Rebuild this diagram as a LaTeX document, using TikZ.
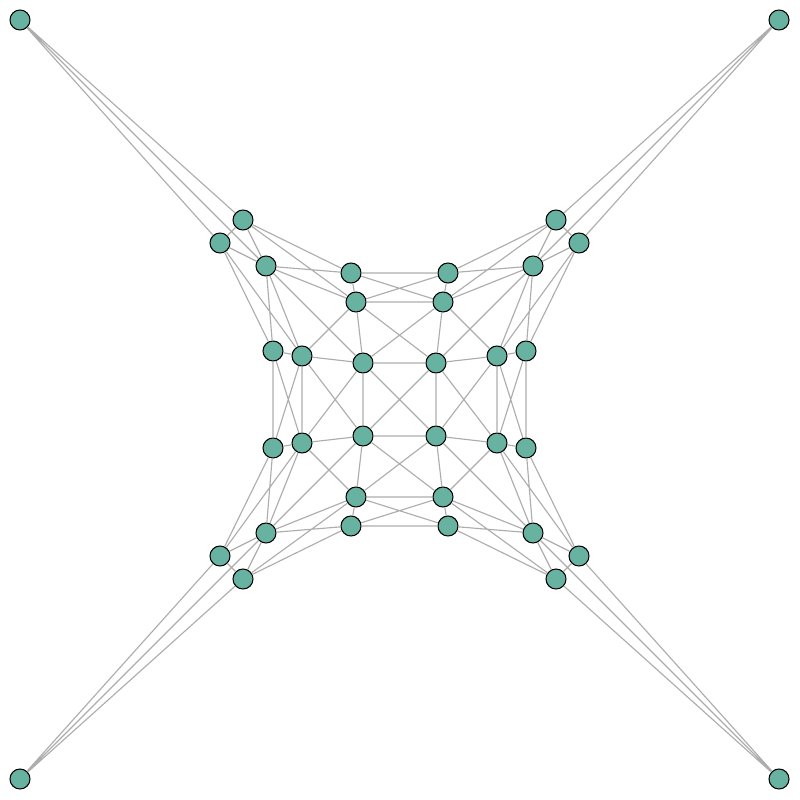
\documentclass[tikz,border=0pt]{standalone}
\definecolor{nodeteal}{RGB}{103,178,160}
\begin{document}
\begin{tikzpicture}[x=0.02cm, y=-0.02cm,
    vtx/.style={circle, draw=black, fill=nodeteal, line width=0.6pt, minimum size=0.4cm, inner sep=0pt},
    link/.style={draw=black!32, line width=0.65pt}]
    \useasboundingbox (0,0) rectangle (800,800);
    % north-west quarter
    \node[vtx] (cnw) at (20,20) {};
    \node[vtx] (anw1) at (243,220) {};
    \node[vtx] (anw2) at (220,243) {};
    \node[vtx] (anw3) at (266,266) {};
    \node[vtx] (tnw1) at (351,273) {};
    \node[vtx] (snw1) at (273,351) {};
    \node[vtx] (tnw2) at (356,302) {};
    \node[vtx] (snw2) at (302,356) {};
    \node[vtx] (mnw) at (363,363) {};
    % north-east quarter
    \node[vtx] (cne) at (779,20) {};
    \node[vtx] (ane1) at (556,220) {};
    \node[vtx] (ane2) at (579,243) {};
    \node[vtx] (ane3) at (533,266) {};
    \node[vtx] (tne1) at (448,273) {};
    \node[vtx] (sne1) at (526,351) {};
    \node[vtx] (tne2) at (443,302) {};
    \node[vtx] (sne2) at (497,356) {};
    \node[vtx] (mne) at (436,363) {};
    % south-west quarter
    \node[vtx] (csw) at (20,779) {};
    \node[vtx] (asw1) at (243,579) {};
    \node[vtx] (asw2) at (220,556) {};
    \node[vtx] (asw3) at (266,533) {};
    \node[vtx] (tsw1) at (351,526) {};
    \node[vtx] (ssw1) at (273,448) {};
    \node[vtx] (tsw2) at (356,497) {};
    \node[vtx] (ssw2) at (302,443) {};
    \node[vtx] (msw) at (363,436) {};
    % south-east quarter
    \node[vtx] (cse) at (779,779) {};
    \node[vtx] (ase1) at (556,579) {};
    \node[vtx] (ase2) at (579,556) {};
    \node[vtx] (ase3) at (533,533) {};
    \node[vtx] (tse1) at (448,526) {};
    \node[vtx] (sse1) at (526,448) {};
    \node[vtx] (tse2) at (443,497) {};
    \node[vtx] (sse2) at (497,443) {};
    \node[vtx] (mse) at (436,436) {};

    % links inside each quarter
    \draw[link] (cnw) -- (anw1) (cnw) -- (anw2) (cnw) -- (anw3) (anw1) -- (anw2) (anw1) -- (anw3) (anw2) -- (anw3)
        (anw1) -- (tnw1) (anw1) -- (tnw2) (anw2) -- (snw1) (anw2) -- (snw2)
        (anw3) -- (tnw1) (anw3) -- (tnw2) (anw3) -- (snw1) (anw3) -- (snw2) (anw3) -- (mnw)
        (tnw1) -- (tnw2) (snw1) -- (snw2) (tnw2) -- (snw2) (tnw2) -- (mnw) (snw2) -- (mnw);
    \draw[link] (cne) -- (ane1) (cne) -- (ane2) (cne) -- (ane3) (ane1) -- (ane2) (ane1) -- (ane3) (ane2) -- (ane3)
        (ane1) -- (tne1) (ane1) -- (tne2) (ane2) -- (sne1) (ane2) -- (sne2)
        (ane3) -- (tne1) (ane3) -- (tne2) (ane3) -- (sne1) (ane3) -- (sne2) (ane3) -- (mne)
        (tne1) -- (tne2) (sne1) -- (sne2) (tne2) -- (sne2) (tne2) -- (mne) (sne2) -- (mne);
    \draw[link] (csw) -- (asw1) (csw) -- (asw2) (csw) -- (asw3) (asw1) -- (asw2) (asw1) -- (asw3) (asw2) -- (asw3)
        (asw1) -- (tsw1) (asw1) -- (tsw2) (asw2) -- (ssw1) (asw2) -- (ssw2)
        (asw3) -- (tsw1) (asw3) -- (tsw2) (asw3) -- (ssw1) (asw3) -- (ssw2) (asw3) -- (msw)
        (tsw1) -- (tsw2) (ssw1) -- (ssw2) (tsw2) -- (ssw2) (tsw2) -- (msw) (ssw2) -- (msw);
    \draw[link] (cse) -- (ase1) (cse) -- (ase2) (cse) -- (ase3) (ase1) -- (ase2) (ase1) -- (ase3) (ase2) -- (ase3)
        (ase1) -- (tse1) (ase1) -- (tse2) (ase2) -- (sse1) (ase2) -- (sse2)
        (ase3) -- (tse1) (ase3) -- (tse2) (ase3) -- (sse1) (ase3) -- (sse2) (ase3) -- (mse)
        (tse1) -- (tse2) (sse1) -- (sse2) (tse2) -- (sse2) (tse2) -- (mse) (sse2) -- (mse);

    % links between quarters
    \draw[link] (tnw1) -- (tne1) (tnw1) -- (tne2) (tnw2) -- (tne1) (tnw2) -- (tne2)
        (mnw) -- (mne) (mnw) -- (tne2) (mne) -- (tnw2);
    \draw[link] (tsw1) -- (tse1) (tsw1) -- (tse2) (tsw2) -- (tse1) (tsw2) -- (tse2)
        (msw) -- (mse) (msw) -- (tse2) (mse) -- (tsw2);
    \draw[link] (snw1) -- (ssw1) (snw1) -- (ssw2) (snw2) -- (ssw1) (snw2) -- (ssw2)
        (mnw) -- (msw) (mnw) -- (ssw2) (msw) -- (snw2);
    \draw[link] (sne1) -- (sse1) (sne1) -- (sse2) (sne2) -- (sse1) (sne2) -- (sse2)
        (mne) -- (mse) (mne) -- (sse2) (mse) -- (sne2);
    \draw[link] (mnw) -- (mse) (mne) -- (msw);
\end{tikzpicture}
\end{document}
